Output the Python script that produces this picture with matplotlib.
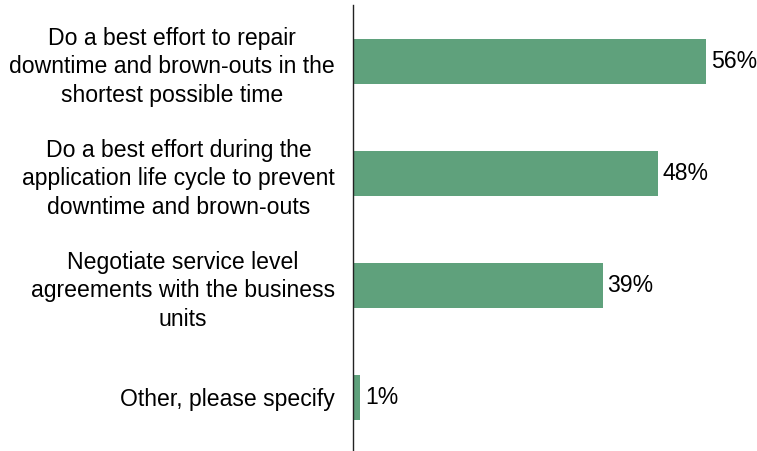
import matplotlib
matplotlib.use("Agg")
import matplotlib.pyplot as plt

categories = [
    "Do a best effort to repair\ndowntime and brown-outs in the\nshortest possible time",
    "Do a best effort during the\napplication life cycle to prevent\ndowntime and brown-outs",
    "Negotiate service level\nagreements with the business\nunits",
    "Other, please specify",
]
values = [56, 48.4, 39.6, 1.1]
value_labels = ["56%", "48%", "39%", "1%"]

plt.rcParams['font.family'] = ['Liberation Sans', 'DejaVu Sans']

W, H = 757, 451
fig = plt.figure(figsize=(W / 100, H / 100), dpi=100)
ax_left = 353 / W
ax = fig.add_axes([ax_left, 0, 1 - ax_left, 1 - 5 / H])

color = "#5FA17C"
FS = 16.6
pos = list(range(len(values)))
ax.barh(pos, values, height=0.40, color=color)
ax.set_xlim(0, 56 * (W - 353) / 353)
ax.set_ylim(3.478, -0.504)

for p, v, lab in zip(pos, values, value_labels):
    ax.annotate(lab, (v, p), xytext=(3.5, 0), textcoords="offset points",
                va="center", ha="left", fontsize=FS, color="#000000")

ax.set_yticks(pos)
ax.set_yticklabels(categories, fontsize=FS, multialignment="center",
                   linespacing=1.32, color="#000000")
ax.tick_params(axis="y", length=0, pad=13)
ax.set_xticks([])
for s in ["top", "right", "bottom"]:
    ax.spines[s].set_visible(False)
ax.spines["left"].set_color("#222222")
ax.spines["left"].set_linewidth(1.0)

fig.savefig("out.png", dpi=100)
